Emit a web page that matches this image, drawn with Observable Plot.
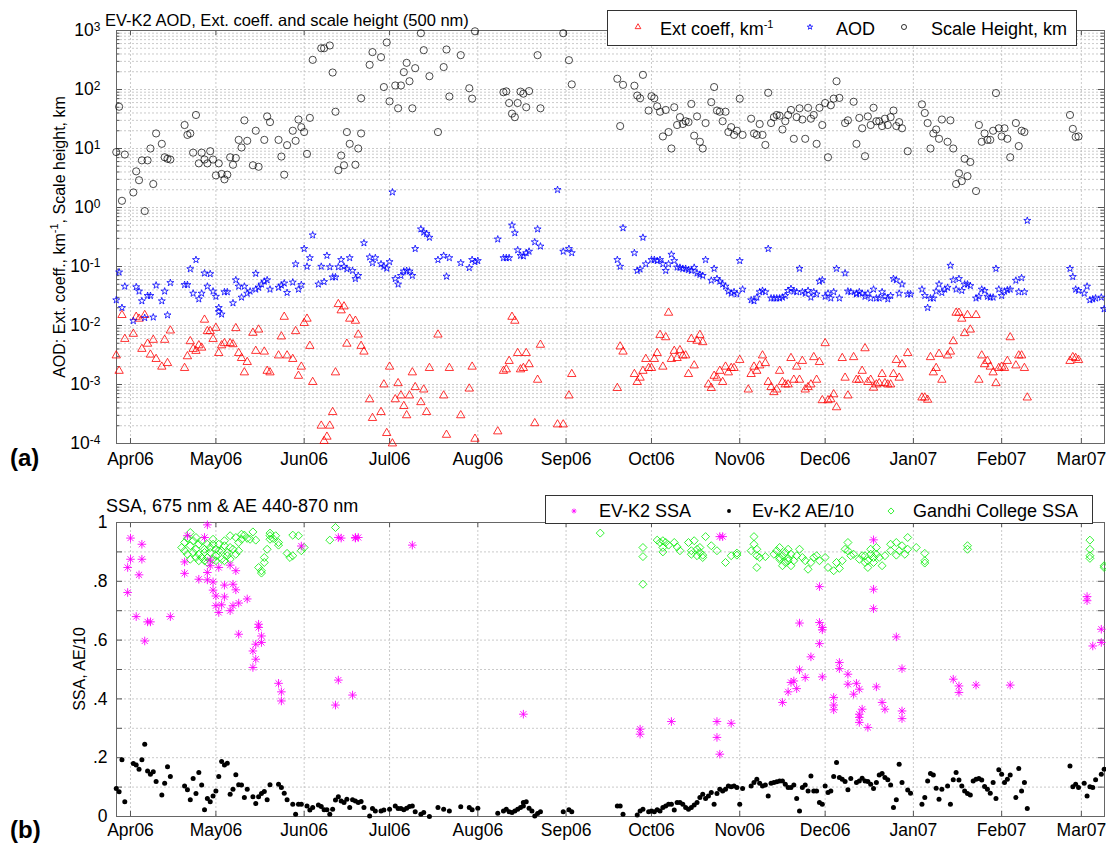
<!DOCTYPE html>
<html><head><meta charset="utf-8">
<script src="https://cdn.jsdelivr.net/npm/d3@7"></script>
<script src="https://cdn.jsdelivr.net/npm/@observablehq/plot@0.6"></script>
<style>
body{margin:0;background:#fff;font-family:"Liberation Sans",Arial,Helvetica,sans-serif;color:#000;}
#wrap{position:relative;width:1106px;height:844px;overflow:hidden;background:#fff;}
#wrap svg.plot{position:absolute;left:0;}
.t{position:absolute;white-space:nowrap;font-size:18px;line-height:18px;}
.leg{position:absolute;background:#fff;border:1px solid #333;box-sizing:border-box;}
.leg .t{font-size:18px;}
.leg svg{position:absolute;overflow:visible;}
.ylab{position:absolute;white-space:nowrap;font-size:16px;transform:translate(-50%,-50%) rotate(-90deg);}
.panel{position:absolute;font-weight:bold;font-size:24px;line-height:24px;}
sup{font-size:11px;vertical-align:7px;line-height:0;}
</style></head>
<body><div id="wrap"></div>
<script>
// ---------------- DATA (day offsets from 2006-04-01, value) ----------------
const extCoeff = [[-5,0.0031],[-4,0.0017],[-3,0.015],[-2,0.0059],[1,0.0072],[2,0.014],[3,0.013],[4,0.004],[5,0.015],[6,0.0049],[7,0.0032],[8,0.0057],[9,0.0027],[11,0.002],[12,0.0057],[13,0.0023],[14,0.0082],[19,0.0019],[20,0.003],[21,0.0054],[22,0.004],[23,0.0037],[24,0.0046],[25,0.0042],[26,0.0125],[27,0.008],[28,0.008],[29,0.0059],[30,0.0091],[31,0.0034],[32,0.0046],[33,0.005],[35,0.005],[36,0.0048],[37,0.009],[38,0.0034],[39,0.0028],[40,0.0016],[41,0.0024],[43,0.0075],[44,0.0037],[45,0.0085],[47,0.0036],[48,0.0017],[49,0.0016],[52,0.0031],[53,0.0065],[54,0.014],[55,0.0031],[57,0.0027],[58,0.008],[59,0.0014],[60,0.002],[61,0.011],[62,0.013],[63,0.0045],[64,0.0011],[67,0.0002],[68,0.00011],[69,0.00013],[70,0.0002],[71,0.00034],[72,0.0016],[73,0.023],[74,0.018],[75,0.021],[76,0.0049],[77,0.013],[79,0.012],[80,0.007],[81,0.0045],
[82,0.0036],[84,0.00056],[85,0.00027],[88,0.00034],[89,0.001],[90,0.00015],[91,0.002],[92,0.0001],[93,0.00056],[94,0.00105],[95,0.00065],[96,0.00043],[97,0.0003],[98,0.00065],[99,0.0016],[100,0.0009],[102,0.0005],[103,0.00082],[104,0.00034],[105,0.0019],[108,0.007],[110,0.00065],[111,0.00014],[112,0.0019],[116,0.0003],[119,0.00085],[120,0.002],[121,0.00012],[129,0.00016],[131,0.0017],[132,0.0018],[133,0.0025],[134,0.014],[135,0.012],[136,0.0034],[137,0.0018],[138,0.0019],[139,0.0034],[140,0.0022],[142,0.00022],[143,0.0012],[144,0.0047],[150,0.00021],[152,0.00021],[154,0.00065],[155,0.0015],
[171,0.00087],[172,0.0044],[173,0.0036],[177,0.0015],[178,0.0011],[179,0.0013],[180,0.0017],[181,0.0027],[182,0.0019],[183,0.0019],[184,0.0027],[185,0.0034],[186,0.0069],[187,0.002],[188,0.0063],[189,0.0164],[190,0.0027],[191,0.0037],[192,0.0028],[193,0.0038],[194,0.0031],[195,0.0031],[196,0.0015],[197,0.0059],[198,0.0021],[199,0.0055],[200,0.0069],[201,0.0052],[203,0.001],[204,0.00087],[205,0.0014],[206,0.0013],[207,0.0017],[208,0.0011],[209,0.002],[210,0.0016],[211,0.0019],[212,0.0019],[214,0.0026],[217,0.00082],[218,0.0015],[219,0.002],[220,0.0017],[221,0.0021],[222,0.0031],[223,0.0023],[224,0.0011],[225,0.0009],[226,0.00074],[227,0.00082],[228,0.0017],[229,0.0011],[230,0.001],[231,0.001],[232,0.0028],[233,0.0012],[234,0.002],[235,0.0012],[236,0.0025],[237,0.00082],[238,0.0009],[239,0.001],[240,0.0029],[241,0.0012],[242,0.0024],[243,0.00054],[244,0.005],[245,0.00054],[246,0.00056],[247,0.00068],[248,0.00041],[250,0.0028],[251,0.0013],[252,0.00065],[254,0.0029],[255,0.0012],
[256,0.0012],[257,0.0017],[258,0.0041],[259,0.0011],[260,0.0012],[261,0.00088],[262,0.001],[263,0.00105],[264,0.0015],[265,0.00105],[266,0.001],[267,0.001],[268,0.0015],[269,0.0026],[270,0.0013],[271,0.0022],[273,0.0034],[278,0.0006],[279,0.0006],[280,0.00055],[281,0.0029],[282,0.0016],[283,0.0019],[284,0.0033],[285,0.0012],[287,0.0031],[288,0.0036],[289,0.0054],[290,0.0164],[291,0.0164],[292,0.013],[293,0.0074],[294,0.015],[295,0.0085],[297,0.015],[298,0.0012],[299,0.0031],[300,0.0022],[301,0.0025],[302,0.002],[303,0.0016],[304,0.00105],[305,0.0019],[306,0.002],[307,0.0019],[308,0.0025],[309,0.0063],[311,0.0021],[312,0.0031],[313,0.0031],[314,0.0019],[315,0.0006],[330,0.0025],[331,0.0029],[332,0.0028],[333,0.0026]];

const aod = [[-5,0.027],[-4,0.08],[-3,0.02],[-2,0.046],[1,0.012],[2,0.045],[3,0.038],[4,0.026],[5,0.0135],[6,0.032],[7,0.032],[8,0.0138],[9,0.048],[11,0.026],[12,0.038],[13,0.015],[14,0.053],[19,0.049],[20,0.049],[21,0.091],[22,0.035],[23,0.13],[24,0.028],[25,0.035],[26,0.077],[27,0.046],[28,0.075],[29,0.038],[30,0.031],[31,0.02],[31,0.017],[32,0.0155],[33,0.037],[34,0.037],[36,0.024],[37,0.059],[38,0.046],[39,0.03],[40,0.046],[41,0.035],[42,0.038],[44,0.076],[44,0.041],[45,0.044],[46,0.05],[47,0.056],[48,0.059],[49,0.041],[52,0.044],[53,0.048],[54,0.052],[55,0.036],[57,0.054],[58,0.11],[59,0.041],[60,0.049],[61,0.2],[62,0.1],[63,0.14],[64,0.34],[66,0.05],[67,0.1],[68,0.055],[69,0.153],[70,0.098],[71,0.066],[72,0.066],[73,0.098],[74,0.13],[75,0.1],[76,0.091],[77,0.14],[78,0.085],[79,0.062],[80,0.07],
[82,0.25],[84,0.144],[85,0.115],[86,0.14],[88,0.11],[89,0.1],[90,0.093],[91,0.12],[92,1.82],[93,0.062],[94,0.05],[95,0.07],[96,0.083],[97,0.085],[98,0.083],[99,0.07],[100,0.2],[102,0.43],[103,0.38],[104,0.36],[105,0.31],[108,0.13],[110,0.153],[111,0.068],[112,0.14],[116,0.115],[119,0.095],[120,0.13],[121,0.12],[122,0.125],[129,0.29],[131,0.14],[132,0.14],[133,0.14],[134,0.5],[135,0.37],[136,0.19],[137,0.153],[138,0.15],[139,0.17],[140,0.18],[142,0.26],[143,0.43],[144,0.22],[150,2.0],[152,0.18],[154,0.2],[155,0.17],
[171,0.13],[172,0.1],[173,0.45],[177,0.17],[178,0.085],[179,0.09],[180,0.31],[181,0.11],[183,0.13],[184,0.13],[185,0.125],[186,0.13],[187,0.11],[188,0.085],[189,0.11],[190,0.16],[191,0.125],[192,0.097],[193,0.096],[194,0.092],[195,0.092],[196,0.088],[197,0.085],[198,0.096],[199,0.077],[200,0.073],[201,0.07],[202,0.13],[204,0.058],[205,0.092],[206,0.062],[207,0.056],[208,0.05],[209,0.046],[210,0.038],[211,0.035],[212,0.037],[213,0.034],[214,0.125],[215,0.041],[218,0.027],[219,0.026],[220,0.03],[221,0.037],[222,0.039],[223,0.037],[224,0.2],[225,0.029],[226,0.029],[227,0.029],[228,0.029],[229,0.03],[230,0.032],[231,0.039],[232,0.042],[233,0.038],[234,0.037],[235,0.092],[236,0.037],[237,0.035],[238,0.039],[239,0.03],[240,0.037],[241,0.034],[242,0.056],[243,0.059],[244,0.031],[245,0.035],[246,0.029],[247,0.037],[248,0.092],[249,0.029],[251,0.077],[252,0.038],[253,0.037],[255,0.035],
[255,0.034],[256,0.037],[257,0.035],[258,0.031],[259,0.035],[260,0.029],[261,0.041],[262,0.029],[263,0.029],[264,0.037],[265,0.031],[266,0.028],[267,0.032],[268,0.062],[269,0.059],[270,0.035],[271,0.05],[273,0.034],[274,0.034],[278,0.041],[279,0.032],[280,0.02],[281,0.029],[282,0.029],[283,0.038],[284,0.05],[285,0.036],[286,0.041],[287,0.044],[288,0.104],[289,0.059],[290,0.041],[291,0.062],[292,0.039],[293,0.05],[294,0.05],[295,0.047],[297,0.029],[298,0.031],[299,0.041],[300,0.039],[301,0.031],[302,0.03],[303,0.03],[304,0.092],[305,0.041],[306,0.032],[307,0.038],[308,0.04],[309,0.041],[311,0.058],[312,0.037],[313,0.064],[314,0.037],[315,0.6],[330,0.092],[331,0.067],[332,0.041],[333,0.039],[335,0.035],[336,0.046],[337,0.027],[338,0.028],[339,0.029],[341,0.03],[342,0.019]];

const scaleHeight = [[-5,8.7],[-4,51],[-3,1.3],[-2,7.9],[1,1.8],[2,4.1],[3,2.9],[4,6.3],[5,0.87],[6,6.3],[7,10],[8,2.5],[9,18],[11,12],[12,7.1],[13,6.7],[14,6.5],[19,25],[20,17],[21,18],[22,8.5],[23,37],[24,5.6],[25,8.5],[26,6.5],[27,5.6],[28,9.0],[29,6.5],[30,3.5],[31,5.6],[32,3.7],[33,3.0],[34,3.6],[35,7.1],[36,5.3],[37,6.9],[38,14],[39,10.4],[40,30],[41,13.5],[43,5.2],[44,20],[45,4.9],[47,14],[48,35],[49,28],[52,14],[53,7.3],[54,3.6],[55,11.4],[57,20],[58,13.5],[59,31],[60,23],[61,19],[62,8.1],[63,33],[64,318],[67,500],[68,500],[70,557],[71,194],[72,42],[73,4.3],[74,7.6],[75,5.2],[76,19],[77,12],[79,5.3],[80,10],[81,18],
[81,71],[84,262],[85,430],[88,353],[89,110],[90,627],[91,63],[93,117],[94,48],[95,117],[96,197],[97,283],[98,138],[99,48],[100,230],[102,900],[103,464],[105,168],[108,19],[110,240],[111,476],[112,76],[116,382],[119,105],[120,70],[121,970],[131,90],[132,93],[133,59],[134,39],[135,34],[136,59],[137,92],[138,85],[139,50],[140,94],[143,382],[144,48],[152,900],[154,314],[155,122],
[171,152],[172,24],[173,120],[177,116],[178,79],[179,71],[180,177],[182,44],[183,77],[184,71],[185,52],[186,42],[187,16],[188,45],[189,19],[190,10],[191,50],[192,25],[193,34],[194,26],[195,29],[196,28],[197,57],[198,16.5],[199,35],[200,13],[201,10],[202,27],[204,61],[205,110],[206,44],[207,42],[208,29],[209,42],[210,19],[211,23],[212,17],[213,20],[214,70],[215,17],[218,32],[219,18],[220,17],[221,26],[222,17],[223,11.5],[224,88],[225,27],[226,34],[227,37],[228,36],[229,21],[230,29],[231,37],[232,45],[233,14.6],[234,34],[235,48],[236,31],[237,14.6],[238,49],[239,32],[240,37],[241,12],[242,49],[243,25],[244,59],[245,7.1],[246,54],[247,70],[248,138],[249,72],[251,27],[252,30],[254,62],[255,12],
[256,33],[257,22],[258,7.4],[259,35],[260,25],[261,49],[262,29],[263,29],[264,24],[265,32],[266,25],[267,34],[268,44],[269,24],[270,28],[271,22],[273,9],[278,56],[279,40],[280,27],[281,10],[282,18],[283,21],[284,14.6],[285,31],[287,13],[288,30],[289,10],[290,2.5],[291,3.8],[292,2.8],[293,6.7],[294,3.4],[295,5.9],[297,1.9],[298,25],[299,13],[300,18],[301,14],[302,14],[303,20],[304,87],[305,22],[306,16],[307,22],[308,14.6],[309,7.1],[311,27],[312,11],[313,20],[314,19],[330,37],[331,21.5],[332,15.7],[333,16]];

const evk2SSA = [[-1,0.847],[0,0.947],[-1,0.762],[0,0.875],[2,0.68],[3,0.822],[4,0.926],[4,0.875],[5,0.597],[6,0.662],[7,0.662],[14,0.68],[19,0.827],[19,0.866],[20,0.955],[24,0.807],[27,0.992],[26,0.949],[27,0.83],[27,0.805],[28,0.853],[28,0.872],[29,0.798],[29,0.77],[30,0.75],[30,0.717],[31,0.694],[31,0.847],[32,0.72],[33,0.787],[33,0.747],[35,0.855],[35,0.7],[36,0.717],[36,0.79],[37,0.771],[37,0.836],[38,0.726],[38,0.62],[41,0.74],[43,0.563],[44,0.586],[43,0.507],[44,0.535],[45,0.654],[45,0.643],[46,0.614],[46,0.592],[52,0.453],[53,0.424],[53,0.393],[60,0.92],[72,0.379],[73,0.464],[73,0.949],[74,0.947],[78,0.413],[79,0.947],[79,0.949],[80,0.949],[99,0.923],[138,0.348],
[179,0.297],[179,0.28],[190,0.323],[206,0.323],[206,0.269],[207,0.212],[207,0.952],[208,0.952],[211,0.317],[229,0.388],[231,0.424],[232,0.456],[233,0.461],[234,0.435],[235,0.499],[235,0.658],[237,0.473],[239,0.543],[242,0.782],[242,0.66],[243,0.643],[243,0.635],[242,0.588],[243,0.475],[247,0.405],[247,0.379],[247,0.363],[249,0.524],[249,0.503],[252,0.484],[252,0.45],[254,0.416],[255,0.453],[256,0.348],[256,0.32],
[256,0.433],[256,0.337],[257,0.365],[259,0.303],[261,0.773],[261,0.707],[261,0.941],[262,0.441],[264,0.388],[265,0.365],[269,0.611],[271,0.359],[271,0.333],[271,0.503],[289,0.467],[291,0.444],[291,0.422],[297,0.447],[309,0.447],[336,0.748],[336,0.734],[338,0.58],[341,0.592],[341,0.637]];

const evk2AE10 = [[-5,0.095],[-4,0.084],[-3,0.193],[-2,0.05],[1,0.18],[2,0.175],[3,0.161],[4,0.193],[5,0.246],[6,0.155],[7,0.144],[8,0.152],[9,0.119],[11,0.073],[12,0.113],[13,0.169],[14,0.136],[19,0.104],[20,0.091],[21,0.057],[22,0.129],[23,0.078],[24,0.15],[25,0.107],[26,0.023],[27,0.061],[28,0.05],[29,0.07],[30,0.087],[31,0.136],[32,0.187],[33,0.175],[34,0.181],[35,0.076],[36,0.093],[37,0.142],[38,0.108],[39,0.107],[40,0.065],[41,0.093],[43,0.067],[44,0.044],[45,0.067],[46,0.078],[47,0.085],[48,0.057],[49,0.108],[52,0.11],[53,0.099],[54,0.079],[55,0.057],[57,0.042],[58,0.008],[59,0.042],[60,0.042],[62,0.036],[63,0.022],[64,0.031],[66,0.039],[67,0.034],[68,0.023],[69,0.023],[70,0.008],[71,0.025],[72,0.056],[73,0.067],[74,0.053],[75,0.048],[76,0.059],[77,0.031],[78,0.057],[79,0.053],[80,0.048],
[81,0.051],[82,0.031],[84,0.002],[85,0.027],[86,0.019],[88,0.019],[89,0.022],[91,0.025],[93,0.036],[94,0.027],[95,0.027],[96,0.023],[97,0.028],[98,0.034],[99,0.036],[100,0.016],[102,0.008],[103,0.014],[105,0.0],[108,0.031],[110,0.025],[112,0.019],[116,0.033],[119,0.031],[120,0.023],[122,0.028],[129,0.011],[131,0.019],[132,0.025],[133,0.016],[134,0.014],[135,0.019],[136,0.025],[137,0.031],[138,0.036],[138,0.048],[139,0.05],[140,0.028],[141,0.019],[142,0.002],[143,0.01],[144,0.016],[152,0.016],[154,0.023],[155,0.016],
[171,0.036],[172,0.036],[173,0.008],[178,0.005],[179,0.019],[180,0.025],[182,0.016],[183,0.019],[184,0.016],[185,0.023],[186,0.019],[187,0.031],[188,0.036],[189,0.042],[190,0.042],[191,0.022],[192,0.048],[193,0.048],[194,0.042],[195,0.031],[196,0.025],[197,0.031],[198,0.039],[199,0.048],[200,0.065],[201,0.076],[202,0.061],[203,0.07],[204,0.082],[205,0.042],[206,0.078],[207,0.093],[208,0.087],[209,0.093],[210,0.104],[211,0.101],[212,0.104],[213,0.099],[214,0.042],[215,0.095],[218,0.104],[219,0.116],[220,0.127],[221,0.113],[222,0.104],[223,0.107],[224,0.07],[225,0.113],[226,0.116],[227,0.118],[228,0.121],[229,0.121],[230,0.11],[231,0.099],[232,0.099],[233,0.107],[234,0.061],[235,0.019],[236,0.099],[237,0.107],[238,0.087],[239,0.138],[240,0.087],[241,0.087],[242,0.048],[243,0.042],[244,0.104],[245,0.082],[246,0.087],[247,0.136],[248,0.184],[249,0.133],[250,0.127],[251,0.119],[252,0.091],[253,0.129],[255,0.116],[256,0.121],
[257,0.13],[258,0.121],[259,0.119],[260,0.11],[261,0.095],[262,0.116],[263,0.141],[264,0.146],[265,0.133],[266,0.125],[267,0.107],[268,0.031],[269,0.057],[270,0.178],[271,0.116],[273,0.09],[274,0.079],[278,0.042],[279,0.065],[280,0.121],[281,0.146],[282,0.141],[283,0.096],[284,0.059],[285,0.093],[287,0.104],[288,0.042],[289,0.125],[290,0.15],[291,0.124],[292,0.104],[293,0.087],[294,0.078],[295,0.073],[296,0.121],[297,0.127],[298,0.129],[299,0.124],[300,0.102],[301,0.093],[302,0.079],[303,0.116],[304,0.061],[305,0.159],[306,0.144],[307,0.116],[308,0.127],[309,0.141],[311,0.065],[312,0.163],[313,0.087],[314,0.116],[315,0.027],[330,0.172],[331,0.101],[332,0.11],[333,0.099],[335,0.113],[336,0.07],[337,0.101],[338,0.099],[339,0.125],[341,0.144],[342,0.161]];

const gandhiSSA = [[18,0.915],[19,0.932],[20,0.946],[21,0.921],[21,0.966],[22,0.898],[22,0.938],[23,0.909],[23,0.949],[24,0.926],[24,0.892],[25,0.938],[25,0.881],[26,0.909],[26,0.898],[27,0.926],[27,0.881],[28,0.915],[28,0.898],[29,0.926],[29,0.943],[30,0.909],[30,0.887],[31,0.926],[32,0.904],[33,0.938],[33,0.921],[34,0.898],[34,0.887],[35,0.915],[35,0.955],[36,0.909],[37,0.949],[38,0.904],[38,0.932],[39,0.96],[39,0.943],[40,0.957],[41,0.946],[42,0.943],[43,0.968],[44,0.94],[45,0.847],[46,0.836],[46,0.828],[47,0.864],[47,0.881],[48,0.909],[49,0.943],[49,0.964],[49,0.955],[50,0.946],[51,0.955],[52,0.932],[52,0.923],[55,0.895],[56,0.881],[57,0.887],[57,0.957],[59,0.955],[60,0.904],[61,0.915],[70,0.94],[72,0.983],
[19,0.904],[20,0.892],[21,0.875],[23,0.881],[24,0.87],[26,0.87],[27,0.864],[29,0.875],[30,0.87],[31,0.904],[32,0.875],[33,0.87],[35,0.875],[37,0.892],
[165,0.964],
[180,0.915],[180,0.884],[180,0.79],[185,0.94],[186,0.932],[187,0.915],[187,0.938],[187,0.9],[188,0.932],[189,0.923],[191,0.932],[192,0.917],[193,0.904],[196,0.932],[197,0.904],[197,0.892],[198,0.938],[199,0.909],[199,0.887],[200,0.915],[200,0.898],[201,0.881],[201,0.889],[202,0.952],[204,0.921],[206,0.904],[209,0.864],[211,0.887],[213,0.896],[213,0.889],[218,0.904],[219,0.926],[219,0.952],[220,0.887],[220,0.909],[220,0.847],[221,0.881],[223,0.884],[226,0.892],[227,0.904],[228,0.881],[228,0.915],[229,0.887],[230,0.864],[230,0.898],[231,0.909],[231,0.878],[232,0.853],[232,0.892],[234,0.887],[235,0.909],[236,0.881],[237,0.87],[238,0.841],[239,0.864],[240,0.881],[241,0.887],[242,0.87],[244,0.881],[245,0.847],[247,0.836],[248,0.864],[249,0.844],[250,0.87],[251,0.909],[252,0.932],[252,0.904],[253,0.887],[254,0.892],[256,0.875],
[228,0.875],[229,0.853],[231,0.87],[233,0.87],
[257,0.887],[258,0.864],[258,0.887],[259,0.847],[259,0.87],[260,0.892],[260,0.909],[261,0.881],[261,0.864],[262,0.915],[262,0.892],[263,0.881],[264,0.853],[265,0.887],[267,0.926],[267,0.904],[269,0.889],[269,0.932],[270,0.904],[271,0.921],[272,0.892],[273,0.949],[273,0.909],[276,0.915],[279,0.895],[279,0.87],[279,0.862],[294,0.921],[294,0.909],[337,0.94],[337,0.909],[337,0.887],[337,0.878],[342,0.853],[342,0.847]];

// ticks / labels
const monthTicks = ["2006-04-01","2006-05-01","2006-06-01","2006-07-01","2006-08-01","2006-09-01","2006-10-01","2006-11-01","2006-12-01","2007-01-01","2007-02-01","2007-03-01"];
const monthLabels = ["Apr06","May06","Jun06","Jul06","Aug06","Sep06","Oct06","Nov06","Dec06","Jan07","Feb07","Mar07"];
const logExponents = [-4,-3,-2,-1,0,1,2,3];
const ssaLabelTicks = [0,0.2,0.4,0.6,0.8,1];
const ssaTickLabels = ["0",".2",".4",".6",".8","1"];
const ssaGridTicks = [0,0.1,0.2,0.3,0.4,0.5,0.6,0.7,0.8,0.9,1];

// ---------------- helpers ----------------
const T0 = Date.UTC(2006,3,1);
const toDate = d => new Date(T0 + d*864e5);
const mDates = monthTicks.map(s => new Date(s + "T00:00:00Z"));
const monthFmt = d => monthLabels[mDates.findIndex(t => +t === +d)];
const logMajor = logExponents.map(e => Math.pow(10, e));
const logMinor = [];
logExponents.slice(0,-1).forEach(e => { for (let m = 2; m <= 9; m++) logMinor.push(m*Math.pow(10,e)); });

const W = 1106, ML = 116, MR = 2;
const frameW = W - ML - MR;
const xDomain = [new Date(Date.UTC(2006,2,27,2)), new Date(Date.UTC(2007,2,9,3))];
const font = '"Liberation Sans", Arial, Helvetica, sans-serif';
const gridStyle = {stroke: "#bcbcbc", strokeDasharray: "2,2", strokeWidth: 0.8};
const tickCol = "#555";

const asterisk8 = {draw(ctx, size){ const r = Math.sqrt(size/Math.PI), s = r*Math.SQRT1_2;
  ctx.moveTo(-r,0); ctx.lineTo(r,0); ctx.moveTo(0,-r); ctx.lineTo(0,r);
  ctx.moveTo(-s,-s); ctx.lineTo(s,s); ctx.moveTo(-s,s); ctx.lineTo(s,-s); }};

// ---------------- top panel ----------------
const H1 = 475, MT1 = 30, MB1 = 32, frameH1 = H1 - MT1 - MB1;
const plotTop = Plot.plot({
  width: W, height: H1, marginTop: MT1, marginBottom: MB1, marginLeft: ML, marginRight: MR,
  style: {fontFamily: font, fontSize: "17.5px", color: "#000", background: "transparent", overflow: "visible"},
  x: {type: "utc", domain: xDomain, label: null},
  y: {type: "log", domain: [1e-4, 1e3], label: null},
  marks: [
    Plot.ruleY(logMinor.concat(logMajor), gridStyle),
    Plot.ruleX(mDates, gridStyle),
    Plot.tickY(logMajor, {insetRight: frameW - 6, stroke: tickCol}),
    Plot.tickY(logMajor, {insetLeft: frameW - 6, stroke: tickCol}),
    Plot.tickY(logMinor, {insetRight: frameW - 3.5, stroke: tickCol}),
    Plot.tickY(logMinor, {insetLeft: frameW - 3.5, stroke: tickCol}),
    Plot.tickX(mDates, {insetTop: frameH1 - 5, stroke: tickCol}),
    Plot.tickX(mDates, {insetBottom: frameH1 - 5, stroke: tickCol}),
    Plot.frame({stroke: "#666"}),
    Plot.axisY(logMajor, {tickSize: 0, tickPadding: 16, tickFormat: d => String(Math.round(Math.log10(d))), fontSize: 17.5, label: null}),
    Plot.axisX(mDates, {tickSize: 0, tickPadding: 9, tickFormat: monthFmt, fontSize: 17.5, label: null}),
    Plot.dot(extCoeff, {x: d => toDate(d[0]), y: d => d[1], symbol: "triangle", r: 3.1, stroke: "#ff0000", fill: "none", strokeWidth: 0.8}),
    Plot.dot(aod, {x: d => toDate(d[0]), y: d => d[1], symbol: "star", r: 2.2, stroke: "#0000ff", fill: "none", strokeWidth: 0.8}),
    Plot.dot(scaleHeight, {x: d => toDate(d[0]), y: d => d[1], symbol: "circle", r: 3.6, stroke: "#000", fill: "none", strokeWidth: 0.7})
  ]
});
plotTop.classList.add("plot");
plotTop.style.top = "0px";
// exponent superscripts on log axis labels
d3.select(plotTop).selectAll('g[aria-label="y-axis tick label"] text').each(function(){
  const e = this.textContent;
  this.textContent = "10";
  d3.select(this).append("tspan").attr("dy", "-0.45em").attr("font-size", "12px").text(e);
});

// ---------------- bottom panel ----------------
const TOP2 = 480, H2 = 844 - TOP2, MT2 = 42, MB2 = 28, frameH2 = H2 - MT2 - MB2;
const plotBot = Plot.plot({
  width: W, height: H2, marginTop: MT2, marginBottom: MB2, marginLeft: ML, marginRight: MR,
  style: {fontFamily: font, fontSize: "17.5px", color: "#000", background: "transparent", overflow: "visible"},
  x: {type: "utc", domain: xDomain, label: null},
  y: {domain: [0, 1], label: null},
  marks: [
    Plot.ruleY(ssaGridTicks, gridStyle),
    Plot.ruleX(mDates, gridStyle),
    Plot.tickY(ssaGridTicks, {insetRight: frameW - 6, stroke: tickCol}),
    Plot.tickY(ssaGridTicks, {insetLeft: frameW - 6, stroke: tickCol}),
    Plot.tickX(mDates, {insetTop: frameH2 - 5, stroke: tickCol}),
    Plot.tickX(mDates, {insetBottom: frameH2 - 5, stroke: tickCol}),
    Plot.frame({stroke: "#666"}),
    Plot.axisY(ssaLabelTicks, {tickSize: 0, tickPadding: 9, tickFormat: d => ssaTickLabels[ssaLabelTicks.indexOf(d)], fontSize: 17.5, label: null}),
    Plot.axisX(mDates, {tickSize: 0, tickPadding: 7, tickFormat: monthFmt, fontSize: 17.5, label: null}),
    Plot.dot(evk2AE10, {x: d => toDate(d[0]), y: d => d[1], symbol: "circle", r: 2.5, fill: "#000", stroke: "none"}),
    Plot.dot(gandhiSSA, {x: d => toDate(d[0]), y: d => d[1], symbol: "diamond2", r: 3.6, stroke: "#00ee00", fill: "none", strokeWidth: 0.8}),
    Plot.dot(evk2SSA, {x: d => toDate(d[0]), y: d => d[1], symbol: asterisk8, r: 4.3, stroke: "#ff00ff", fill: "none", strokeWidth: 0.9})
  ]
});
plotBot.classList.add("plot");
plotBot.style.top = TOP2 + "px";

const wrap = document.getElementById("wrap");
wrap.appendChild(plotTop);
wrap.appendChild(plotBot);

// ---------------- texts & legends ----------------
function addDiv(cls, html, css) {
  const d = document.createElement("div"); d.className = cls; d.innerHTML = html;
  Object.assign(d.style, css); wrap.appendChild(d); return d;
}
addDiv("t", "EV-K2 AOD, Ext. coeff. and scale height (500 nm)", {left: "105px", top: "11px", fontSize: "16.5px"});
addDiv("t", "SSA, 675 nm &amp; AE 440-870 nm", {left: "106px", top: "497px"});
addDiv("ylab", "AOD: Ext. coeff., km<sup>-1</sup>, Scale height, km", {left: "60px", top: "237px"});
addDiv("ylab", "SSA, AE/10", {left: "80px", top: "669px"});
addDiv("panel", "(a)", {left: "10px", top: "446px"});
addDiv("panel", "(b)", {left: "10px", top: "818px"});

function symSvg(parent, cx, cy, type, size, stroke, fill) {
  const s = d3.select(parent).append("svg").attr("width", 14).attr("height", 14)
    .style("left", (cx - 7) + "px").style("top", (cy - 7) + "px");
  s.append("path").attr("transform", "translate(7,7)")
    .attr("d", d3.symbol(type, size)()).attr("stroke", stroke).attr("fill", fill).attr("stroke-width", 0.8);
}
const leg1 = addDiv("leg", "", {left: "607px", top: "10px", width: "470px", height: "36px"});
symSvg(leg1, 30, 16, d3.symbolTriangle, 14, "#ff0000", "none");
symSvg(leg1, 202, 16, d3.symbolStar, 9, "#0000ff", "none");
symSvg(leg1, 296, 16, d3.symbolCircle, 20, "#000", "none");
const l1t = [["Ext coeff, km<sup>-1</sup>", 52], ["AOD", 228], ["Scale Height, km", 323]];
l1t.forEach(([h, x]) => { const d = document.createElement("div"); d.className = "t"; d.innerHTML = h; d.style.left = x + "px"; d.style.top = "9px"; leg1.appendChild(d); });

const leg2 = addDiv("leg", "", {left: "545px", top: "495px", width: "548px", height: "29px"});
symSvg(leg2, 28, 15, asterisk8, 20, "#ff00ff", "none");
symSvg(leg2, 183, 15, d3.symbolCircle, 12, "none", "#000");
symSvg(leg2, 345, 15, d3.symbolDiamond2, 24, "#00ee00", "none");
const l2t = [["EV-K2 SSA", 53], ["Ev-K2 AE/10", 206], ["Gandhi College SSA", 367]];
l2t.forEach(([h, x]) => { const d = document.createElement("div"); d.className = "t"; d.innerHTML = h; d.style.left = x + "px"; d.style.top = "6px"; leg2.appendChild(d); });
</script>
</body></html>
